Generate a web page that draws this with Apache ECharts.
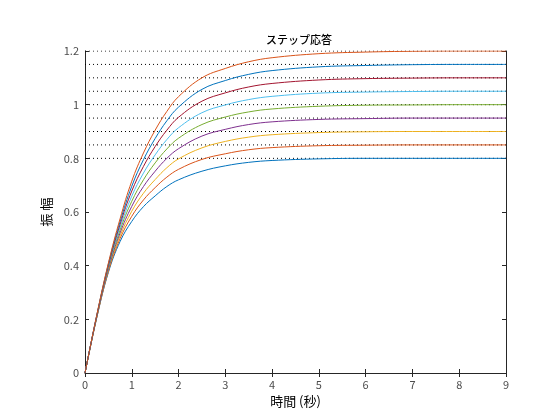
<!DOCTYPE html>
<html>
<head>
<meta charset="utf-8">
<script src="https://cdn.jsdelivr.net/npm/echarts@6/dist/echarts.min.js"></script>
<style>
  html, body { margin: 0; padding: 0; background: #fff; }
  #box { width: 560px; height: 420px; }
</style>
</head>
<body>
<div id="box"></div>
<script>
// 時間軸 (秒)
var times = [0, 0.25, 0.5, 0.75, 1, 1.25, 1.5, 1.75, 2, 2.5, 3, 3.5, 4, 5, 6, 7, 8, 9];
// 各ステップ応答の最終値
var finals = [0.8, 0.85, 0.9, 0.95, 1.0, 1.05, 1.1, 1.15, 1.2];
// 応答値
var y080 = [0, 0.205, 0.375, 0.490, 0.565, 0.620, 0.660, 0.695, 0.720, 0.752, 0.772, 0.785, 0.792, 0.798, 0.800, 0.800, 0.800, 0.800];
var y085 = [0, 0.206, 0.379, 0.501, 0.584, 0.645, 0.691, 0.730, 0.759, 0.796, 0.817, 0.832, 0.840, 0.847, 0.849, 0.850, 0.850, 0.850];
var y090 = [0, 0.207, 0.384, 0.511, 0.603, 0.670, 0.721, 0.765, 0.798, 0.839, 0.863, 0.879, 0.888, 0.896, 0.899, 0.900, 0.900, 0.900];
var y095 = [0, 0.209, 0.388, 0.522, 0.621, 0.695, 0.752, 0.800, 0.836, 0.883, 0.908, 0.926, 0.936, 0.945, 0.948, 0.950, 0.950, 0.950];
var y100 = [0, 0.210, 0.393, 0.533, 0.640, 0.720, 0.783, 0.835, 0.875, 0.926, 0.954, 0.973, 0.984, 0.994, 0.998, 0.999, 1.000, 1.000];
var y105 = [0, 0.211, 0.397, 0.543, 0.659, 0.745, 0.813, 0.870, 0.914, 0.970, 0.999, 1.019, 1.031, 1.043, 1.047, 1.049, 1.050, 1.050];
var y110 = [0, 0.212, 0.401, 0.554, 0.678, 0.770, 0.844, 0.905, 0.953, 1.013, 1.044, 1.066, 1.079, 1.092, 1.097, 1.099, 1.100, 1.100];
var y115 = [0, 0.214, 0.406, 0.564, 0.696, 0.795, 0.874, 0.940, 0.991, 1.057, 1.090, 1.113, 1.127, 1.141, 1.146, 1.149, 1.150, 1.150];
var y120 = [0, 0.215, 0.410, 0.575, 0.715, 0.820, 0.905, 0.975, 1.030, 1.100, 1.135, 1.160, 1.175, 1.190, 1.196, 1.199, 1.200, 1.200];
var responses = [y080, y085, y090, y095, y100, y105, y110, y115, y120];
var colors = ['#0072BD', '#D95319', '#EDB120', '#7E2F8E', '#77AC30', '#4DBEEE', '#A2142F', '#0072BD', '#D95319'];

var axisColor = '#262626';
var labelColor = '#4d4d4d';
var font = '"Noto Sans CJK JP", "Noto Sans", sans-serif';

var myChart = echarts.init(document.getElementById('box'));

var series = [];
// 点線 (最終値)
finals.forEach(function (v) {
    series.push({
        type: 'line',
        data: [[0, v], [9, v]],
        symbol: 'none',
        silent: true,
        z: 1,
        lineStyle: { color: '#000', width: 1, type: [1, 3] }
    });
});
responses.forEach(function (arr, i) {
    series.push({
        type: 'line',
        data: times.map(function (t, j) { return [t, arr[j]]; }),
        symbol: 'none',
        smooth: 0.4,
        z: 2,
        lineStyle: { color: colors[i], width: 1 }
    });
});

var option = {
    animation: false,
    backgroundColor: '#fff',
    title: {
        text: 'ステップ応答',
        left: 294,
        top: 29,
        textAlign: 'center',
        textStyle: { fontFamily: font, fontSize: 11, fontWeight: 500, color: '#000' }
    },
    grid: { left: 85, right: 54, top: 51, bottom: 47 },
    xAxis: [{
        type: 'value', min: 0, max: 9, interval: 1,
        name: '時間 (秒)', nameLocation: 'middle', nameGap: 18,
        nameTextStyle: { fontFamily: font, fontSize: 13, color: '#000' },
        axisLine: { show: true, onZero: false, lineStyle: { color: axisColor } },
        axisTick: { inside: true, length: 4, lineStyle: { color: axisColor } },
        axisLabel: { fontFamily: font, fontSize: 11, color: labelColor, margin: 6 },
        splitLine: { show: false }
    }, {
        type: 'value', min: 0, max: 9, interval: 1, position: 'top',
        axisLine: { show: false },
        axisTick: { inside: true, length: 4, lineStyle: { color: axisColor } },
        axisLabel: { show: false },
        splitLine: { show: false }
    }],
    yAxis: [{
        type: 'value', min: 0, max: 1.2, interval: 0.2,
        name: '振 幅', nameLocation: 'middle', nameGap: 23, nameRotate: 90,
        nameTextStyle: { fontFamily: font, fontSize: 13, color: '#000' },
        axisLine: { show: true, onZero: false, lineStyle: { color: axisColor } },
        axisTick: { show: true, inside: true, length: 4, lineStyle: { color: axisColor } },
        axisLabel: {
            fontFamily: font, fontSize: 11, color: labelColor, margin: 6,
            formatter: function (v) { return String(Math.round(v * 10) / 10); }
        },
        splitLine: { show: false }
    }, {
        type: 'value', min: 0, max: 1.2, interval: 0.2, position: 'right',
        axisLine: { show: true, onZero: false, lineStyle: { color: axisColor } },
        axisTick: { show: true, inside: true, length: 4, lineStyle: { color: axisColor } },
        axisLabel: { show: false },
        splitLine: { show: false }
    }],
    series: series
};
myChart.setOption(option);
</script>
</body>
</html>
